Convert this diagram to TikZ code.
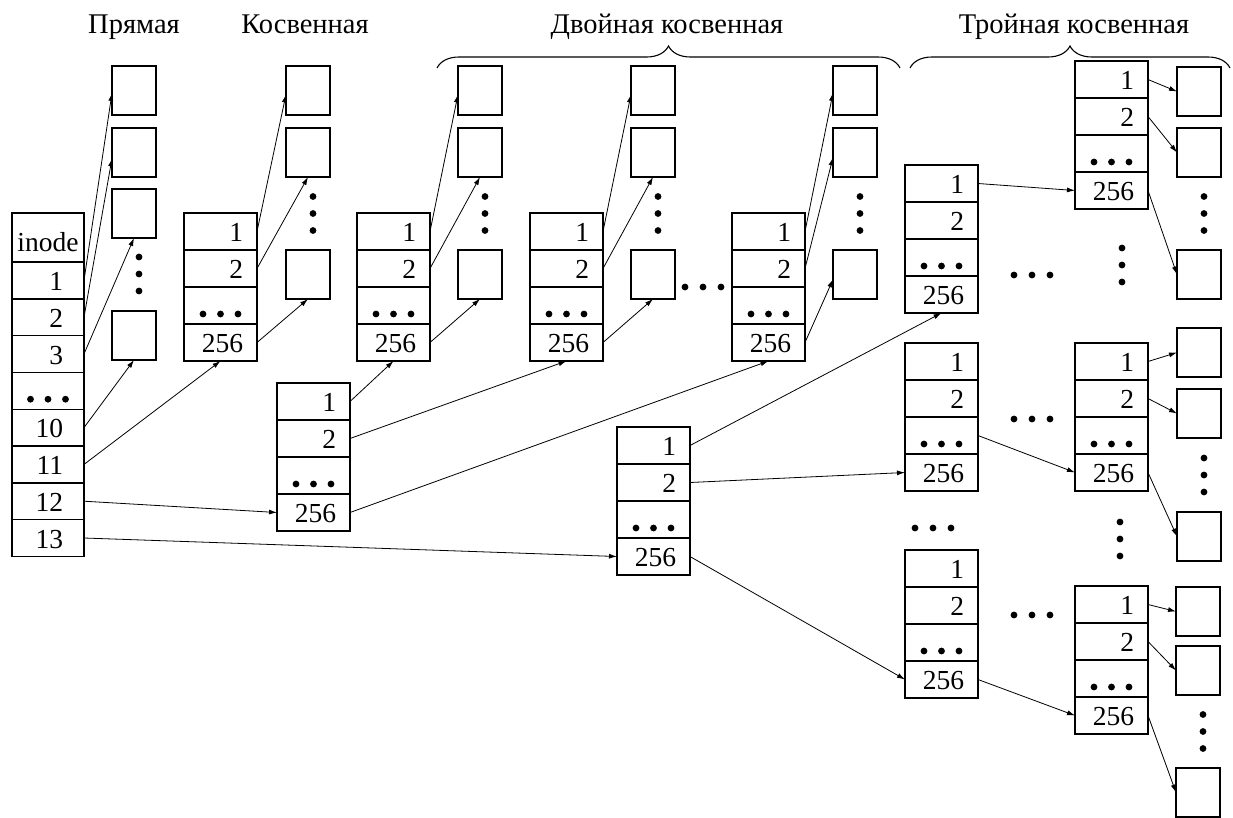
\documentclass[tikz,border=0pt]{standalone}
\usepackage{fontspec}
\setmainfont{Liberation Serif}
\usetikzlibrary{calc,arrows.meta,decorations.pathreplacing}
\newcommand\hdotsrow[1]{\foreach \dx in {-17.5,0,17.5}{\fill ($(#1.south)+(\dx,-10)$) circle (3.4pt);}}
\newcommand\mktable[3]{%
  \node[cell, anchor=north west] (#1-1) at (#2,#3) {1};
  \node[cell, anchor=north] (#1-2) at (#1-1.south) {2};
  \node[cell, anchor=north] (#1-d) at (#1-2.south) {};
  \node[cell, anchor=north] (#1-256) at (#1-d.south) {256};
  \hdotsrow{#1-d}}
\newcommand\mksquares[5]{%
  \node[sq, anchor=north west] (#1-s1) at (#2,#3) {};
  \node[sq, anchor=north west] (#1-s2) at (#2,#4) {};
  \node[sq, anchor=north west] (#1-s3) at (#2,#5) {};
  \foreach \dy in {-17,0,17}{\fill ($($(#1-s2.south)!0.5!(#1-s3.north)$)+(5,\dy)$) circle (3.4pt);}}
\newcommand\hdotsat[2]{\foreach \dx in {-18,0,18}{\fill (#1+\dx,#2) circle (3.4pt);}}
\newcommand\vdotsat[2]{\foreach \dy in {-17,0,17}{\fill (#1,#2+\dy) circle (3.4pt);}}
\begin{document}
\begin{tikzpicture}[x=1pt,y=-1pt,
  cell/.style={draw, line width=1.4pt, minimum width=73pt, minimum height=37pt,
    text width=45pt, inner xsep=14pt, inner ysep=0pt, align=right,
    text height=20pt, text depth=0pt, outer sep=0pt, font=\fontsize{27.5}{30}\selectfont},
  icell/.style={cell, minimum width=72pt, text width=30pt, inner xsep=21pt, minimum height=36.8pt},
  sq/.style={draw, line width=1.4pt, minimum width=44pt, minimum height=49pt, inner sep=0pt, outer sep=0pt},
  arr/.style={-{Latex[length=8pt,width=5pt]}, line width=0.8pt},
  title/.style={font=\fontsize{28.5}{32}\selectfont, anchor=base, inner sep=0pt},
  brc/.style={line width=1.1pt, decorate, decoration={brace, amplitude=22pt}}
]
\useasboundingbox (0,0) rectangle (1233,817);

% titles
\node[title] (t1) at (134,33) {Прямая};
\node[title] (t2) at (305,33) {Косвенная};
\node[title] (t3) at (667,33) {Двойная косвенная};
\node[title] (t4) at (1074,33) {Тройная косвенная};
\coordinate (b1l) at (437,68); \coordinate (b1r) at (900,68);
\coordinate (b2l) at (910,68); \coordinate (b2r) at (1230,68);
\draw[brc] (b1l) -- (b1r);
\draw[brc] (b2l) -- (b2r);

% inode table
\node[icell, text width=62pt, inner xsep=5pt, align=center, minimum height=49pt, text height=28pt, anchor=north west] (in-h) at (12,213) {inode};
\node[icell, anchor=north] (in-1) at (in-h.south) {1};
\node[icell, anchor=north] (in-2) at (in-1.south) {2};
\node[icell, anchor=north] (in-3) at (in-2.south) {3};
\node[icell, anchor=north] (in-d) at (in-3.south) {};
\node[icell, anchor=north] (in-10) at (in-d.south) {10};
\node[icell, anchor=north] (in-11) at (in-10.south) {11};
\node[icell, anchor=north] (in-12) at (in-11.south) {12};
\node[icell, anchor=north] (in-13) at (in-12.south) {13};
\hdotsrow{in-d}

% direct blocks
\node[sq, anchor=north west] (d1) at (112,66) {};
\node[sq, anchor=north west] (d2) at (112,128) {};
\node[sq, anchor=north west] (d3) at (112,189) {};
\node[sq, anchor=north west] (d4) at (112,311) {};
\vdotsat{139}{274}

% tables
\mktable{si}{184}{213}
\mktable{dl}{277}{383}
\mktable{da}{357}{213}
\mktable{db}{530}{213}
\mktable{dc}{732}{213}
\mktable{tl}{617}{427}
\mktable{ta}{905}{165}
\mktable{tb}{905}{343}
\mktable{tc}{905}{550}
\mktable{ua}{1075}{61}
\mktable{ub}{1075}{343}
\mktable{uc}{1075}{586}

% data block groups
\mksquares{si}{286}{66}{128}{250}
\mksquares{da}{458}{66}{128}{250}
\mksquares{db}{631}{66}{128}{250}
\mksquares{dc}{833}{66}{128}{250}
\mksquares{ua}{1177}{67}{128}{250}
\mksquares{ub}{1177}{328}{389}{512}
\mksquares{uc}{1176}{587}{646}{768}

% free dots
\hdotsat{703}{287}
\hdotsat{1032}{275}
\vdotsat{1122}{265}
\hdotsat{1032}{419}
\vdotsat{1120}{539}
\hdotsat{933}{528}
\hdotsat{1032}{615}

% inode arrows
\draw[arr] (in-1.east) -- ($(d1.south west)!0.45!(d1.north west)$);
\draw[arr] (in-2.east) -- ($(d2.south west)!0.38!(d2.north west)$);
\draw[arr] (in-3.east) -- (d3.south);
\draw[arr] (in-10.east) -- (d4.south);
\draw[arr] (in-11.east) -- (si-256.south);
\draw[arr] (in-12.east) -- (dl-256.west);
\draw[arr] (in-13.east) -- (tl-256.west);

% single indirect & double level 2
\foreach \t in {si,da,db}{
  \draw[arr] (\t-1.east) -- ($(\t-s1.south west)!0.42!(\t-s1.north west)$);
  \draw[arr] (\t-2.east) -- (\t-s2.south);
  \draw[arr] (\t-256.east) -- (\t-s3.south);
}
\draw[arr] (dc-1.east) -- ($(dc-s1.south west)!0.45!(dc-s1.north west)$);
\draw[arr] (dc-2.east) -- ($(dc-s2.south west)!0.4!(dc-s2.north west)$);
\draw[arr] (dc-256.east) -- ($(dc-s3.south west)!0.4!(dc-s3.north west)$);

% double level 1
\draw[arr] (dl-1.east) -- (da-256.south);
\draw[arr] (dl-2.east) -- (db-256.south);
\draw[arr] (dl-256.east) -- (dc-256.south);

% triple
\draw[arr] (tl-1.east) -- (ta-256.south);
\draw[arr] (tl-2.east) -- (tb-256.west);
\draw[arr] (tl-256.east) -- (tc-256.west);
\draw[arr] (ta-1.east) -- (ua-256.west);
\draw[arr] (tb-d.east) -- (ub-256.west);
\draw[arr] (tc-256.east) -- (uc-256.west);
\foreach \t in {ua,ub,uc}{
  \draw[arr] (\t-1.east) -- (\t-s1.west);
  \draw[arr] (\t-2.east) -- (\t-s2.west);
  \draw[arr] (\t-256.east) -- (\t-s3.west);
}
\end{tikzpicture}
\end{document}
